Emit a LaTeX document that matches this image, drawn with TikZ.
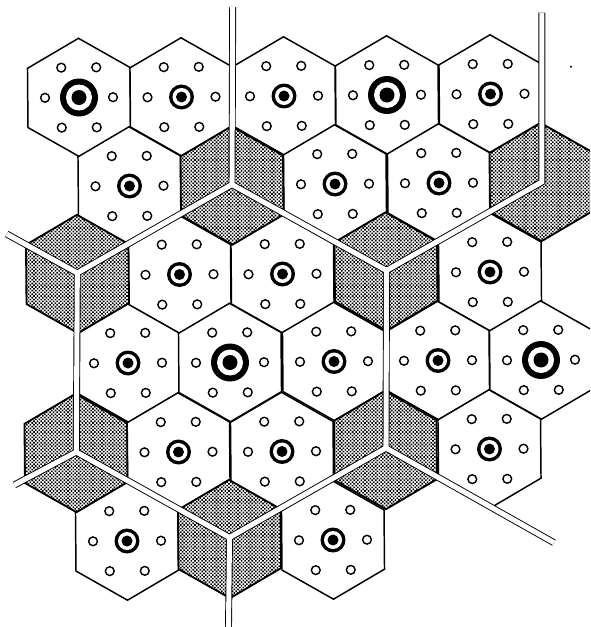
\documentclass[tikz,border=0pt]{standalone}
\usepackage{tikz}
\usetikzlibrary{patterns.meta}
\tikzset{
  cellline/.style={black,line width=2.1pt,line join=miter},
  plaincell/.style={cellline,fill=white},
  darkcell/.style={line width=2.6pt,line join=miter,draw=black,
    pattern={Dots[radius=1.6pt,distance=3.6pt,angle=45]},pattern color=black},
  smalldot/.style={black,line width=2pt,fill=white},
  wallout/.style={black,line width=9.8pt,line join=miter},
  wallin/.style={white,line width=7.2pt,line join=miter},
}
\begin{document}
\begin{tikzpicture}[x=0.05cm,y=-0.05cm]
  \path[use as bounding box,clip] (0,0) rectangle (590,627);
  \fill[white] (0,0) rectangle (590,627);
  % plain cells, radius/rings: x/y/target
  \foreach \cx/\cy/\rout/\rwhite/\rcore in {
      79/97.5/19/13/7.5, 181.5/97/12.5/9/5.5, 284/96/12.5/9/5.5, 387/95/19/13/7.5, 490.5/94/12.5/9/5.5,
      129.5/186/12.5/9/5.5, 335/184/12.5/9/5.5, 439/183/12.5/9/5.5,
      179.5/274.5/12.5/9/5.5, 282.5/274/12.5/9/5.5, 490/272/12.5/9/5.5,
      128/363/12.5/9/5.5, 230/362.5/19/13/7.5, 334/361.5/12.5/9/5.5, 438/360.5/12.5/9/5.5, 541/360/19/13/7.5,
      178.5/452/12.5/9/5.5, 282/451.5/12.5/9/5.5, 489.5/449/12.5/9/5.5,
      127/541/12.5/9/5.5, 333/540/12.5/9/5.5}{
    \begin{scope}[shift={(\cx,\cy)},rotate=0.5]
      \draw[plaincell] (30:59.2) -- (90:59.2) -- (150:59.2) -- (210:59.2) -- (270:59.2) -- (330:59.2) -- cycle;
      \foreach \dx/\dy in {-17.5/-30,17.5/-30,-34/0,34/0,-17.5/30,17.5/30}{
        \draw[smalldot] (\dx,\dy) circle (4.4);
      }
      \fill[black] (0,0) circle (\rout);
      \fill[white] (0,0) circle (\rwhite);
      \fill[black] (0,0) circle (\rcore);
    \end{scope}
  }
  % shaded cells
  \foreach \cx/\cy in {232/185.5,541/182,77.5/274,386/271.5,76/453,385.5/450,229.5/539}{
    \begin{scope}[shift={(\cx,\cy)},rotate=0.5]
      \fill[white] (30:59.2) -- (90:59.2) -- (150:59.2) -- (210:59.2) -- (270:59.2) -- (330:59.2) -- cycle;
      \draw[darkcell] (30:59.2) -- (90:59.2) -- (150:59.2) -- (210:59.2) -- (270:59.2) -- (330:59.2) -- cycle;
    \end{scope}
  }
  % boundary lines
  \coordinate (juncA) at (232,184.5);
  \coordinate (juncB) at (386.5,270.5);
  \coordinate (juncC) at (541.8,182);
  \coordinate (juncD) at (77.3,273);
  \coordinate (juncE) at (76.3,452);
  \coordinate (juncF) at (229.5,537.5);
  \coordinate (juncG) at (386,448);
  \coordinate (endA) at (232.7,7);
  \coordinate (endC) at (541.8,12.5);
  \coordinate (endD) at (6.7,234);
  \coordinate (endE) at (14.3,485);
  \coordinate (endF) at (228.5,627);
  \coordinate (endG) at (554,542.7);
  \foreach \wall in {wallout,wallin}{
    \draw[\wall] (endA) -- (juncA) -- (juncB) -- (juncG) -- (juncF) -- (juncE) -- (juncD) -- (juncA);
    \draw[\wall] (endC) -- (juncC) -- (juncB);
    \draw[\wall] (endD) -- (juncD);
    \draw[\wall] (endE) -- (juncE);
    \draw[\wall] (endF) -- (juncF);
    \draw[\wall] (endG) -- (juncG);
  }
  \fill[black] (571,66.7) circle (1.1);
\end{tikzpicture}
\end{document}
